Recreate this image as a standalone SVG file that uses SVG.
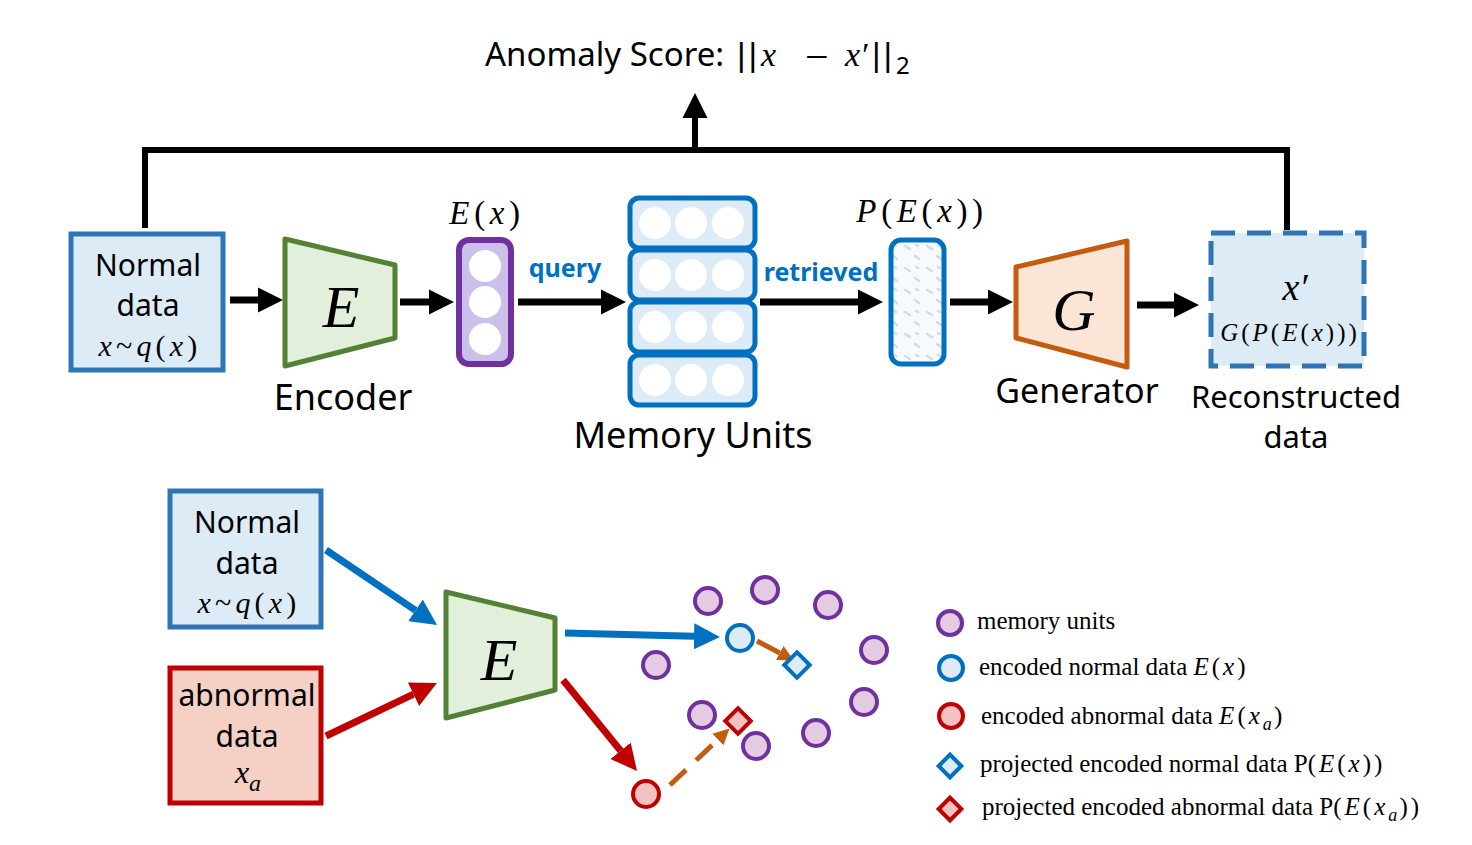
<svg xmlns="http://www.w3.org/2000/svg" width="1472" height="845" viewBox="0 0 1472 845">
<defs>
<style>
.sans{font-family:"Noto Sans","Open Sans","DejaVu Sans",sans-serif;fill:#000}
.math{font-family:"Liberation Serif","DejaVu Serif",serif;font-style:italic;fill:#000;letter-spacing:0.14em}
.m0{letter-spacing:0}
.rm{font-family:"Liberation Serif","DejaVu Serif",serif;font-style:normal}
.bar{font-family:"Liberation Sans","Arial",sans-serif;letter-spacing:3px}
.leg{font-family:"Liberation Serif","DejaVu Serif",serif;font-size:25px;fill:#000}
.lm{font-style:italic;letter-spacing:0.12em}
.lbl{font-family:"Noto Sans","Open Sans",sans-serif;font-weight:bold;font-size:25px;fill:#0070c0}
.blk{stroke:#000;stroke-width:7;fill:none}
.conn{stroke:#000;stroke-width:6;fill:none}
.nbox{fill:#ddebf7;stroke:#2e75b6;stroke-width:5}
.abox{fill:#f4d0c5;stroke:#c00000;stroke-width:5}
.enc{fill:#e2efda;stroke:#538135;stroke-width:5;stroke-linejoin:round}
.gen{fill:#fbe5d6;stroke:#c55a11;stroke-width:5;stroke-linejoin:round}
.mem{fill:#ddebf7;stroke:#0070c0;stroke-width:5}
.wc{fill:#fff}
.mu{fill:#e4cbe2;stroke:#7030a0;stroke-width:4}
.bc{fill:#ddebf7;stroke:#0070c0;stroke-width:4}
.rc{fill:#f4c2c2;stroke:#c00000;stroke-width:4}
</style>
<marker id="ah" viewBox="0 0 10 10" refX="0" refY="5" markerUnits="userSpaceOnUse" markerWidth="25" markerHeight="27" orient="auto"><path d="M0,0 L10,5 L0,10 z" fill="#000"/></marker>
<marker id="ahb" viewBox="0 0 10 10" refX="0" refY="5" markerUnits="userSpaceOnUse" markerWidth="26" markerHeight="26" orient="auto"><path d="M0,0 L10,5 L0,10 z" fill="#0070c0"/></marker>
<marker id="ahr" viewBox="0 0 10 10" refX="0" refY="5" markerUnits="userSpaceOnUse" markerWidth="26" markerHeight="26" orient="auto"><path d="M0,0 L10,5 L0,10 z" fill="#c00000"/></marker>
<marker id="aho" viewBox="0 0 10 10" refX="0" refY="5" markerUnits="userSpaceOnUse" markerWidth="16" markerHeight="18" orient="auto"><path d="M0,0 L10,5 L0,10 z" fill="#c55a11"/></marker>
<pattern id="hatch" width="22" height="22" patternUnits="userSpaceOnUse">
<rect width="22" height="22" fill="#f7fafd"/>
<path d="M3,4 L8,7 M13,14 L17,17 M14,3 L16,4" stroke="#c9def1" stroke-width="2.5" stroke-linecap="round"/>
</pattern>
</defs>
<rect width="1472" height="845" fill="#fff"/>

<text class="sans" x="485" y="66" font-size="33">Anomaly Score:<tspan class="bar" x="737">||</tspan><tspan class="math m0" x="761" font-size="34">x</tspan><tspan class="rm" x="805" dy="5" font-size="42">−</tspan><tspan class="math m0" x="845" dy="-5" font-size="34">x′</tspan><tspan class="bar" x="872">||</tspan><tspan font-size="24" x="896" dy="8">2</tspan></text>

<g id="connectors">
<path class="conn" d="M145,228 V150 H1287 V230"/>
<path class="conn" d="M695,150 V118" marker-end="url(#ah)"/>
<path class="blk" d="M230,300 H258" marker-end="url(#ah)"/>
<path class="blk" d="M400,302 H429" marker-end="url(#ah)"/>
<path class="blk" d="M518,302 H601" marker-end="url(#ah)"/>
<path class="blk" d="M760,302 H858" marker-end="url(#ah)"/>
<path class="blk" d="M950,302 H988" marker-end="url(#ah)"/>
<path class="blk" d="M1137,305 H1174" marker-end="url(#ah)"/>
<path d="M326,550 L415.5,610.4" stroke="#0070c0" stroke-width="7" fill="none" marker-end="url(#ahb)"/>
<path d="M326,736 L413.5,694.2" stroke="#c00000" stroke-width="7" fill="none" marker-end="url(#ahr)"/>
<path d="M565,633 L694,636.3" stroke="#0070c0" stroke-width="7" fill="none" marker-end="url(#ahb)"/>
<path d="M563,680 L620.6,750.8" stroke="#c00000" stroke-width="7" fill="none" marker-end="url(#ahr)"/>
<path d="M757,641 L779.8,653" stroke="#c55a11" stroke-width="5" fill="none" marker-end="url(#aho)"/>
<path d="M670,785 L717.9,739.6" stroke="#c55a11" stroke-width="5" fill="none" stroke-dasharray="22,14" marker-end="url(#aho)"/>
</g>

<g id="normal-top">
<rect class="nbox" x="71" y="234" width="152" height="136"/>
<text class="sans" x="148" y="276" font-size="30" text-anchor="middle">Normal</text>
<text class="sans" x="148" y="316" font-size="30" text-anchor="middle">data</text>
<text class="math" x="150" y="356" font-size="30" text-anchor="middle">x<tspan class="rm">~</tspan>q<tspan class="rm">(</tspan>x<tspan class="rm">)</tspan></text>
</g>

<g id="encoder-top">
<polygon class="enc" points="285,239 395,265 395,338 285,366"/>
<text class="sans" x="343" y="410" font-size="36" text-anchor="middle">Encoder</text>
<text class="math m0" x="341" y="327" font-size="60" text-anchor="middle">E</text>
</g>

<g id="ex-vector">
<rect x="459" y="240" width="52" height="124" rx="10" fill="#ccc0ea" stroke="#7030a0" stroke-width="6"/>
<circle class="wc" cx="485" cy="266" r="16"/>
<circle class="wc" cx="485" cy="302" r="16"/>
<circle class="wc" cx="485" cy="339" r="16"/>
<text class="math" x="487" y="224" font-size="33" text-anchor="middle">E<tspan class="rm">(</tspan>x<tspan class="rm">)</tspan></text>
</g>

<text class="lbl" x="565" y="277" text-anchor="middle">query</text>

<g id="memory-units">
<rect class="mem" x="630" y="198" width="125" height="50" rx="9"/>
<rect class="mem" x="630" y="250" width="125" height="50" rx="9"/>
<rect class="mem" x="630" y="302" width="125" height="50" rx="9"/>
<rect class="mem" x="630" y="355" width="125" height="50" rx="9"/>
<g class="wc">
<circle cx="655" cy="223" r="16"/><circle cx="691" cy="223" r="16"/><circle cx="728" cy="223" r="16"/>
<circle cx="655" cy="275" r="16"/><circle cx="691" cy="275" r="16"/><circle cx="728" cy="275" r="16"/>
<circle cx="655" cy="327" r="16"/><circle cx="691" cy="327" r="16"/><circle cx="728" cy="327" r="16"/>
<circle cx="655" cy="380" r="16"/><circle cx="691" cy="380" r="16"/><circle cx="728" cy="380" r="16"/>
</g>
<text class="sans" x="693" y="448" font-size="36" text-anchor="middle">Memory Units</text>
</g>

<text class="lbl" x="821" y="281" text-anchor="middle">retrieved</text>

<g id="pex-vector">
<rect x="891" y="240" width="53" height="124" rx="10" fill="url(#hatch)" stroke="#0070c0" stroke-width="5"/>
<text class="math" x="922" y="222" font-size="33" text-anchor="middle">P<tspan class="rm">(</tspan>E<tspan class="rm">(</tspan>x<tspan class="rm">))</tspan></text>
</g>

<g id="generator">
<polygon class="gen" points="1016,267 1127,241 1127,367 1016,338"/>
<text class="math m0" x="1074" y="330" font-size="60" text-anchor="middle">G</text>
<text class="sans" x="1077" y="403" font-size="34" text-anchor="middle">Generator</text>
</g>

<g id="reconstructed">
<rect x="1211" y="233" width="153" height="133" fill="#ddebf7" stroke="#2e75b6" stroke-width="5" stroke-dasharray="24,12"/>
<text class="math m0" x="1295" y="300" font-size="38" text-anchor="middle">x′</text>
<text class="math" x="1290" y="341" font-size="25" text-anchor="middle" style="letter-spacing:0.12em">G<tspan class="rm">(</tspan>P<tspan class="rm">(</tspan>E<tspan class="rm">(</tspan>x<tspan class="rm">)))</tspan></text>
<text class="sans" x="1296" y="408" font-size="31" text-anchor="middle">Reconstructed</text>
<text class="sans" x="1296" y="448" font-size="31" text-anchor="middle">data</text>
</g>

<g id="normal-bottom">
<rect class="nbox" x="170" y="491" width="151" height="136"/>
<text class="sans" x="247" y="533" font-size="30" text-anchor="middle">Normal</text>
<text class="sans" x="247" y="574" font-size="30" text-anchor="middle">data</text>
<text class="math" x="249" y="613" font-size="30" text-anchor="middle">x<tspan class="rm">~</tspan>q<tspan class="rm">(</tspan>x<tspan class="rm">)</tspan></text>
</g>

<g id="abnormal-bottom">
<rect class="abox" x="170" y="668" width="151" height="135"/>
<text class="sans" x="247" y="706" font-size="30" text-anchor="middle">abnormal</text>
<text class="sans" x="247" y="747" font-size="30" text-anchor="middle">data</text>
<text class="math m0" x="248" y="783" font-size="32" text-anchor="middle">x<tspan font-size="24" dy="8">a</tspan></text>
</g>

<g id="encoder-bottom">
<polygon class="enc" points="446,592 555,618 555,690 446,718"/>
<text class="math m0" x="499" y="680" font-size="60" text-anchor="middle">E</text>
</g>

<g id="latent-space">
<circle class="mu" cx="708" cy="601" r="13"/>
<circle class="mu" cx="765" cy="590" r="13"/>
<circle class="mu" cx="828" cy="605" r="13"/>
<circle class="mu" cx="874" cy="650" r="13"/>
<circle class="mu" cx="656" cy="665" r="13"/>
<circle class="mu" cx="702" cy="715" r="13"/>
<circle class="mu" cx="756" cy="746" r="13"/>
<circle class="mu" cx="816" cy="733" r="13"/>
<circle class="mu" cx="864" cy="702" r="13"/>
<circle class="bc" cx="740" cy="638" r="13"/>
<rect class="bc" x="788" y="656" width="18" height="18" transform="rotate(45 797 665)"/>
<circle class="rc" cx="646" cy="794" r="13"/>
<rect class="rc" x="729" y="712" width="18" height="18" transform="rotate(45 738 721)"/>
</g>

<g id="legend">
<circle class="mu" cx="950" cy="623" r="12"/>
<text class="leg" x="977" y="629">memory units</text>
<circle class="bc" cx="951" cy="668" r="12"/>
<text class="leg" x="979" y="675">encoded normal data <tspan class="lm">E</tspan><tspan letter-spacing="0.12em">(</tspan><tspan class="lm">x</tspan>)</text>
<circle class="rc" cx="951" cy="716" r="12"/>
<text class="leg" x="981" y="724">encoded abnormal data <tspan class="lm">E</tspan><tspan letter-spacing="0.12em">(</tspan><tspan class="lm">x</tspan><tspan class="lm" font-size="18" dy="6">a</tspan><tspan dy="-6">)</tspan></text>
<rect class="bc" x="942" y="758" width="16" height="16" transform="rotate(45 950 766)"/>
<text class="leg" x="980" y="772">projected encoded normal data P<tspan letter-spacing="0.12em">(</tspan><tspan class="lm">E</tspan><tspan letter-spacing="0.12em">(</tspan><tspan class="lm">x</tspan><tspan letter-spacing="0.12em">))</tspan></text>
<rect class="rc" x="942" y="801" width="16" height="16" transform="rotate(45 950 809)"/>
<text class="leg" x="982" y="815">projected encoded abnormal data P<tspan letter-spacing="0.12em">(</tspan><tspan class="lm">E</tspan><tspan letter-spacing="0.12em">(</tspan><tspan class="lm">x</tspan><tspan class="lm" font-size="18" dy="6">a</tspan><tspan dy="-6" letter-spacing="0.12em">))</tspan></text>
</g>
</svg>
